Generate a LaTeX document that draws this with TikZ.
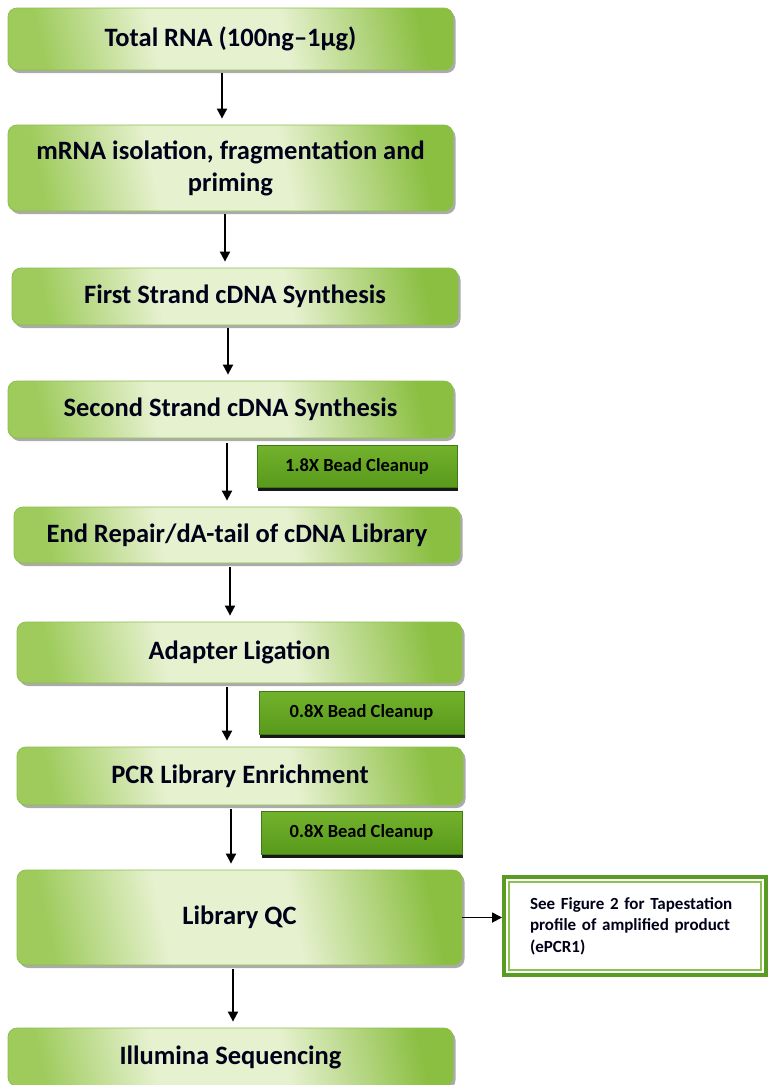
\documentclass[tikz,border=0pt]{standalone}
\usepackage{fontspec}
\setmainfont{Carlito}
\usetikzlibrary{shadows,calc,arrows.meta}
\definecolor{gEdgeL}{HTML}{9ECB5C}
\definecolor{gMid}{HTML}{E6F1CF}
\definecolor{gEdgeR}{HTML}{8BBF42}
\definecolor{gBorder}{HTML}{8DBF4C}
\definecolor{bTop}{HTML}{72B22C}
\definecolor{bBot}{HTML}{5A9A1C}
\definecolor{bBorder}{HTML}{3F7A12}
\definecolor{nOuter}{HTML}{5A9B22}
\definecolor{nInner}{HTML}{8CC251}
\pgfdeclarehorizontalshading{stepshade}{100bp}{color(0bp)=(gEdgeL); color(25bp)=(gEdgeL); color(40bp)=(gMid); color(57bp)=(gMid); color(75bp)=(gEdgeR); color(100bp)=(gEdgeR)}
\tikzset{
  stepbox/.style={rounded corners=9pt, draw=gBorder, line width=0.8pt,
    shading=stepshade, shading angle=12,
    drop shadow={shadow xshift=2.5pt, shadow yshift=-3pt, fill=black!60, opacity=0.55},
    font=\bfseries\fontsize{26.5}{32}\selectfont, align=center, text=black!90!blue,
    inner sep=0pt},
  beadbox/.style={draw=bBorder, line width=0.8pt, top color=bTop, bottom color=bBot,
    drop shadow={shadow xshift=1pt, shadow yshift=-4pt, fill=black, opacity=0.9},
    font=\bfseries\fontsize{18.5}{20}\selectfont, text=black, inner sep=0pt},
  notebox/.style={draw=nOuter, line width=4pt, fill=white,
    font=\bfseries\fontsize{17}{21.5}\selectfont, align=left, text=black!90!blue,
    inner sep=0pt},
  arr/.style={-{Triangle[length=10pt,width=10pt]}, line width=1.8pt, black},
}
\begin{document}
\begin{tikzpicture}[x=1pt,y=-1pt]
\useasboundingbox (0,0) rectangle (768,1085);
\node[stepbox, minimum width=445pt, minimum height=62pt] (n1) at (230.5,39) {Total RNA (100ng–1µg)};
\node[stepbox, minimum width=445pt, minimum height=86pt] (n2) at (230.5,168) {mRNA isolation, fragmentation and\\priming};
\node[stepbox, minimum width=446pt, minimum height=57pt] (n3) at (235,296.5) {First Strand cDNA Synthesis};
\node[stepbox, minimum width=445pt, minimum height=57pt] (n4) at (230.5,409.5) {Second Strand cDNA Synthesis};
\node[beadbox, minimum width=200pt, minimum height=42pt] (b1) at (357,466) {1.8X Bead Cleanup};
\node[stepbox, minimum width=446pt, minimum height=56pt] (n5) at (237,535) {End Repair/dA-tail of cDNA Library};
\node[stepbox, minimum width=445pt, minimum height=61pt] (n6) at (239.5,652.5) {Adapter Ligation};
\node[beadbox, minimum width=205pt, minimum height=43pt] (b2) at (361.5,712.5) {0.8X Bead Cleanup};
\node[stepbox, minimum width=446pt, minimum height=58pt] (n7) at (240,776) {PCR Library Enrichment};
\node[beadbox, minimum width=201pt, minimum height=43pt] (b3) at (361.5,832.5) {0.8X Bead Cleanup};
\node[stepbox, minimum width=445pt, minimum height=95pt] (n8) at (239.5,917.5) {Library QC};
\node[stepbox, minimum width=445pt, minimum height=58pt] (n9) at (230.5,1057) {Illumina Sequencing};
\node[notebox, minimum width=262pt, minimum height=98pt, text width=210pt] (note) at (635,926) {See Figure 2 for Tapestation\\profile of amplified product\\(ePCR1)};
\draw[nInner, line width=1.5pt] ($(note.north west)+(7,7)$) rectangle ($(note.south east)+(-7,-7)$);
\draw[arr] ($(n1.south)+(-8.5,3)$) -- ($(n2.north)+(-8.5,-6)$);
\draw[arr] ($(n2.south)+(-5.5,3)$) -- ($(n3.north)+(-10,-6)$);
\draw[arr] ($(n3.south)+(-7,3)$) -- ($(n4.north)+(-2.5,-6)$);
\draw[arr] ($(n4.south)+(-3.5,5)$) -- ($(n5.north)+(-10,-6)$);
\draw[arr] ($(n5.south)+(-7,4)$) -- ($(n6.north)+(-9.5,-6)$);
\draw[arr] ($(n6.south)+(-12.5,4)$) -- ($(n7.north)+(-13,-6)$);
\draw[arr] ($(n7.south)+(-9,4)$) -- ($(n8.north)+(-8.5,-6)$);
\draw[arr] ($(n8.south)+(-6.5,4)$) -- ($(n9.north)+(2.5,-6)$);
\draw[arr] (n8.east) -- (n8.east -| note.west);
\end{tikzpicture}
\end{document}
